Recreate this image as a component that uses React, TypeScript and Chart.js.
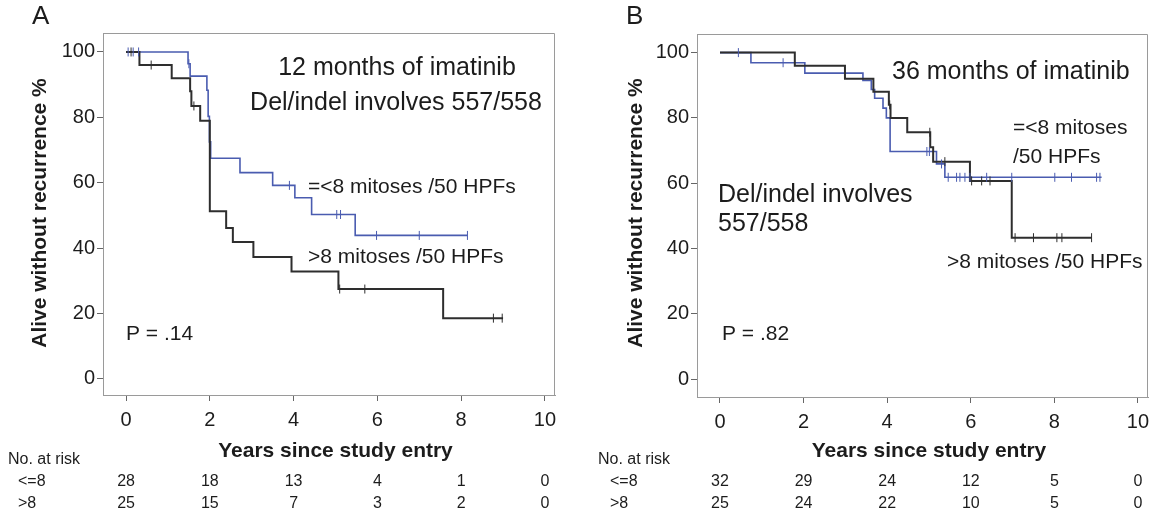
import React, { useEffect, useRef } from "react";
import { Chart, registerables } from "chart.js";

Chart.register(...registerables);

const FONT = "'Liberation Sans', Arial, Helvetica, sans-serif";
const BLUE = "#4a5cb0";
const BLACK = "#2e2e2e";
const TEXT = "#1c1c1c";

// ---- axis ticks ----
const xTicks = [0, 2, 4, 6, 8, 10];
const yTicks = [0, 20, 40, 60, 80, 100];

// ---- Panel A: 12 months of imatinib ----
const aLowTimes = [0, 1.48, 1.53, 1.93, 1.96, 1.99, 2.02, 2.72, 3.5, 4.03, 4.43, 5.47, 8.15];
const aLowSurv = [100, 96.4, 92.6, 88.3, 80.3, 72.5, 67.5, 63.1, 59.2, 55.4, 50.3, 43.9, 43.9];
const aLowCensor = [0.05, 0.17, 0.3, 1.5, 3.9, 5.03, 5.12, 5.98, 7.0, 8.15];
const aHighTimes = [0, 0.32, 1.09, 1.53, 1.56, 1.77, 2.0, 2.39, 2.55, 3.04, 3.95, 5.07, 7.57, 9.0];
const aHighSurv = [100, 96, 92, 88, 83.5, 79, 51.3, 46.2, 41.9, 37.3, 32.9, 27.5, 18.6, 18.6];
const aHighCensor = [0.12, 0.6, 1.62, 5.1, 5.7, 8.77, 8.98];
const aRiskLow = [28, 18, 13, 4, 1, 0];
const aRiskHigh = [25, 15, 7, 3, 2, 0];

// ---- Panel B: 36 months of imatinib ----
const bLowTimes = [0, 0.74, 2.03, 3.42, 3.62, 3.7, 3.9, 3.98, 4.07, 5.18, 5.38, 9.13];
const bLowSurv = [100, 96.9, 93.7, 91.5, 88.7, 86, 83, 80, 69.7, 65.9, 61.8, 61.8];
const bLowCensor = [0.44, 1.51, 4.95, 5.01, 5.3, 5.46, 5.66, 5.74, 5.86, 5.98, 6.38, 6.98, 8.01, 8.41, 9.01, 9.09];
const bHighTimes = [0, 1.79, 2.99, 3.67, 4.04, 4.08, 4.48, 5.03, 5.1, 5.98, 6.98, 8.89];
const bHighSurv = [100, 96, 92, 88, 84, 80, 75.6, 71, 66.6, 60.7, 43.3, 43.3];
const bHighCensor = [4.06, 5.02, 5.38, 6.02, 6.26, 6.46, 7.06, 7.5, 8.06, 8.18, 8.89];
const bRiskLow = [32, 29, 24, 12, 5, 0];
const bRiskHigh = [25, 24, 22, 10, 5, 0];

type Note = { text: string; x: number; y: number; size: number; align?: CanvasTextAlign; bold?: boolean };

type PanelCfg = {
  offsetX: number;
  width: number;
  pad: { top: number; right: number };
  yWidth: number;
  xHeight: number;
  yMin: number;
  yMax: number;
  lowT: number[];
  lowS: number[];
  lowC: number[];
  highT: number[];
  highS: number[];
  highC: number[];
  riskLow: number[];
  riskHigh: number[];
  letter: Note;
  notes: Note[];
  yTitle: { x: number; y: number };
  riskLabelX: number;
  rowLabelX: number;
};

function survAt(times: number[], surv: number[], t: number): number {
  let s = surv[0];
  for (let i = 0; i < times.length; i++) {
    if (times[i] <= t) s = surv[i];
  }
  return s;
}

const W = 1159;
const H = 518;

const panelA: PanelCfg = {
  offsetX: 0,
  width: 580,
  pad: { top: 33, right: 25 },
  yWidth: 103,
  xHeight: 123,
  yMin: -4.9,
  yMax: 105.8,
  lowT: aLowTimes,
  lowS: aLowSurv,
  lowC: aLowCensor,
  highT: aHighTimes,
  highS: aHighSurv,
  highC: aHighCensor,
  riskLow: aRiskLow,
  riskHigh: aRiskHigh,
  letter: { text: "A", x: 32, y: 17, size: 26 },
  notes: [
    { text: "12 months of imatinib", x: 397, y: 68, size: 25, align: "center" },
    { text: "Del/indel involves 557/558", x: 396, y: 103, size: 25, align: "center" },
    { text: "=<8 mitoses /50 HPFs", x: 308, y: 187, size: 21 },
    { text: ">8 mitoses /50 HPFs", x: 308, y: 257, size: 21 },
    { text: "P = .14", x: 126, y: 334, size: 21 },
  ],
  yTitle: { x: 40, y: 213 },
  riskLabelX: 8,
  rowLabelX: 18,
};

const panelB: PanelCfg = {
  offsetX: 580,
  width: 579,
  pad: { top: 34, right: 11 },
  yWidth: 117,
  xHeight: 121,
  yMin: -5.5,
  yMax: 105.7,
  lowT: bLowTimes,
  lowS: bLowSurv,
  lowC: bLowCensor,
  highT: bHighTimes,
  highS: bHighSurv,
  highC: bHighCensor,
  riskLow: bRiskLow,
  riskHigh: bRiskHigh,
  letter: { text: "B", x: 626, y: 17, size: 26 },
  notes: [
    { text: "36 months of imatinib", x: 892, y: 72, size: 25 },
    { text: "Del/indel involves", x: 718, y: 195, size: 25 },
    { text: "557/558", x: 718, y: 224, size: 25 },
    { text: "=<8 mitoses", x: 1013, y: 128, size: 21 },
    { text: "/50 HPFs", x: 1013, y: 157, size: 21 },
    { text: ">8 mitoses /50 HPFs", x: 947, y: 262, size: 21 },
    { text: "P = .82", x: 722, y: 334, size: 21 },
  ],
  yTitle: { x: 636, y: 213 },
  riskLabelX: 598,
  rowLabelX: 610,
};

function Panel({ cfg }: { cfg: PanelCfg }) {
  const ref = useRef<HTMLCanvasElement | null>(null);

  useEffect(() => {
    const canvas = ref.current;
    if (!canvas) return;
    const ox = cfg.offsetX;

    const lowPts = cfg.lowT.map((t, i) => ({ x: t, y: cfg.lowS[i] }));
    const highPts = cfg.highT.map((t, i) => ({ x: t, y: cfg.highS[i] }));
    const lowCens = cfg.lowC.map((t) => ({ x: t, y: survAt(cfg.lowT, cfg.lowS, t) }));
    const highCens = cfg.highC.map((t) => ({ x: t, y: survAt(cfg.highT, cfg.highS, t) }));

    const textPlugin = {
      id: "kmText",
      afterDraw(chart: any) {
        const ctx: CanvasRenderingContext2D = chart.ctx;
        const area = chart.chartArea;
        const xs = chart.scales.x;
        ctx.save();
        // top and right frame
        ctx.strokeStyle = "#9a9a9a";
        ctx.lineWidth = 1;
        ctx.beginPath();
        ctx.moveTo(area.left, area.top + 0.5);
        ctx.lineTo(area.right - 0.5, area.top + 0.5);
        ctx.lineTo(area.right - 0.5, area.bottom);
        ctx.stroke();

        ctx.fillStyle = TEXT;
        ctx.textBaseline = "middle";
        const put = (n: Note) => {
          ctx.font = `${n.bold ? "bold " : ""}${n.size}px ${FONT}`;
          ctx.textAlign = n.align || "left";
          ctx.fillText(n.text, n.x - ox, n.y);
        };
        put(cfg.letter);
        cfg.notes.forEach(put);

        // y title
        ctx.save();
        ctx.translate(cfg.yTitle.x - ox, cfg.yTitle.y);
        ctx.rotate(-Math.PI / 2);
        ctx.font = `bold 21px ${FONT}`;
        ctx.textAlign = "center";
        ctx.fillText("Alive without recurrence %", 0, 0);
        ctx.restore();

        // x title
        const midX = (xs.getPixelForValue(0) + xs.getPixelForValue(10)) / 2;
        ctx.font = `bold 21px ${FONT}`;
        ctx.textAlign = "center";
        ctx.fillText("Years since study entry", midX, 451);

        // risk table
        ctx.font = `16px ${FONT}`;
        ctx.textAlign = "left";
        ctx.fillText("No. at risk", cfg.riskLabelX - ox, 460);
        ctx.fillText("<=8", cfg.rowLabelX - ox, 482);
        ctx.fillText(">8", cfg.rowLabelX - ox, 504);
        ctx.textAlign = "center";
        xTicks.forEach((t, i) => {
          const px = xs.getPixelForValue(t);
          ctx.fillText(String(cfg.riskLow[i]), px, 482);
          ctx.fillText(String(cfg.riskHigh[i]), px, 504);
        });
        ctx.restore();
      },
    };

    const chart = new Chart(canvas, {
      type: "line",
      data: {
        datasets: [
          {
            data: lowPts,
            stepped: true,
            borderColor: BLUE,
            borderWidth: 1.6,
            pointRadius: 0,
            fill: false,
            order: 3,
          } as any,
          {
            data: highPts,
            stepped: true,
            borderColor: BLACK,
            borderWidth: 2,
            pointRadius: 0,
            fill: false,
            order: 2,
          } as any,
          {
            type: "scatter",
            data: lowCens,
            showLine: false,
            pointStyle: "line",
            rotation: 90,
            pointRadius: 4.5,
            borderColor: BLUE,
            borderWidth: 1,
            order: 1,
          } as any,
          {
            type: "scatter",
            data: highCens,
            showLine: false,
            pointStyle: "line",
            rotation: 90,
            pointRadius: 4.5,
            borderColor: BLACK,
            borderWidth: 1,
            order: 0,
          } as any,
        ],
      },
      options: {
        animation: false,
        responsive: false,
        maintainAspectRatio: false,
        layout: { padding: { top: cfg.pad.top, right: cfg.pad.right, left: 0, bottom: 0 } },
        plugins: { legend: { display: false }, tooltip: { enabled: false } },
        scales: {
          x: {
            type: "linear",
            min: -0.55,
            max: 10.24,
            afterBuildTicks: (s: any) => {
              s.ticks = xTicks.map((v) => ({ value: v }));
            },
            afterFit: (s: any) => {
              s.height = cfg.xHeight;
            },
            grid: { drawOnChartArea: false, drawTicks: true, tickLength: 6, color: "#666" },
            border: { display: true, color: "#9a9a9a", width: 1 },
            ticks: { font: { family: FONT, size: 20 }, color: TEXT, padding: 7, maxRotation: 0, autoSkip: false },
          },
          y: {
            type: "linear",
            min: cfg.yMin,
            max: cfg.yMax,
            afterBuildTicks: (s: any) => {
              s.ticks = yTicks.map((v) => ({ value: v }));
            },
            afterFit: (s: any) => {
              s.width = cfg.yWidth;
            },
            grid: { drawOnChartArea: false, drawTicks: true, tickLength: 6, color: "#666" },
            border: { display: true, color: "#9a9a9a", width: 1 },
            ticks: { font: { family: FONT, size: 20 }, color: TEXT, padding: 2, autoSkip: false },
          },
        },
      } as any,
      plugins: [textPlugin],
    });
    return () => chart.destroy();
  }, [cfg]);

  return (
    <canvas
      ref={ref}
      width={cfg.width}
      height={H}
      style={{ position: "absolute", left: cfg.offsetX, top: 0, width: cfg.width, height: H }}
    />
  );
}

export default function App() {
  return (
    <div style={{ position: "absolute", left: 0, top: 0, width: W, height: H, background: "#fff" }}>
      <Panel cfg={panelA} />
      <Panel cfg={panelB} />
    </div>
  );
}
